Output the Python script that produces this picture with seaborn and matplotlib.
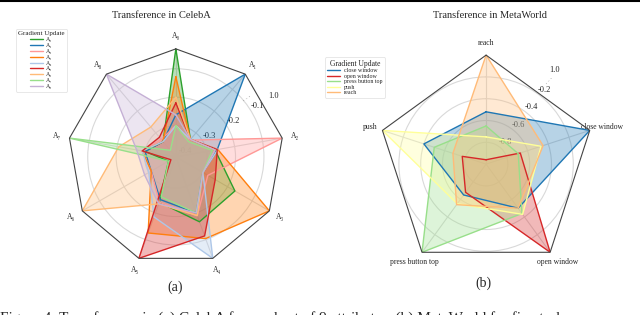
import numpy as np
import matplotlib
matplotlib.use("Agg")
import matplotlib.pyplot as plt
from matplotlib.lines import Line2D
import seaborn as sns

# CelebA: rows = gradient update of attribute, columns = attribute axis
celeba_axes = ['A₀', 'A₁', 'A₂', 'A₃', 'A₄', 'A₅', 'A₆', 'A₇', 'A₈']
celeba_series = ['A₀', 'A₁', 'A₂', 'A₃', 'A₄', 'A₅', 'A₆', 'A₇', 'A₈']
A0 = [1.0, -0.33, -0.27, -0.17, -0.167, -0.24, -0.38, -0.30, -0.34]
A1 = [-0.262, 1.0, -0.262, -0.30, -0.20, -0.25, -0.31, -0.30, -0.34]
A2 = [-0.30, -0.333, 1.0, -0.28, -0.19, -0.24, -0.31, -0.29, -0.33]
A3 = [-0.128, -0.33, -0.26, 1.0, -0.104, -0.125, -0.31, -0.29, -0.34]
A4 = [-0.30, -0.33, -0.26, -0.30, 1.0, -0.185, -0.30, -0.29, -0.34]
A5 = [-0.22, -0.33, -0.262, -0.25, -0.114, 1.0, -0.39, -0.29, -0.32]
A6 = [-0.20, -0.33, -0.27, -0.30, -0.19, -0.234, 1.0, -0.206, -0.273]
A7 = [-0.30, -0.34, -0.28, -0.30, -0.20, -0.26, -0.38, 1.0, -0.38]
A8 = [-0.262, -0.33, -0.27, -0.30, -0.20, -0.234, -0.283, -0.27, 1.0]
celeba_values = [A0, A1, A2, A3, A4, A5, A6, A7, A8]
celeba_ticks = [-0.4, -0.3, -0.2, -0.1]

# MetaWorld
mw_axes = ['reach', 'close window', 'open window', 'press button top', 'push']
mw_series = ['close window', 'open window', 'press button top', 'push', 'reach']
close_window = [-0.52, 1.0, -0.50, -0.65, -0.40]
open_window = [-0.96, -0.67, 1.0, -0.68, -0.77]
press_button_top = [-0.65, -0.69, -0.44, 1.0, -0.50]
push = [-0.75, -0.47, -0.43, -0.55, 1.0]
reach = [1.0, -0.45, -0.50, -0.54, -0.68]
mw_values = [close_window, open_window, press_button_top, push, reach]
mw_ticks = [-0.8, -0.6, -0.4, -0.2]

sns.set_theme(style='white')
plt.rcParams['font.family'] = ['Liberation Serif', 'DejaVu Serif']

tab = sns.color_palette('tab20')
celeba_colors = [tab[4], tab[0], tab[7], tab[2], tab[1], tab[6], tab[3], tab[5], tab[9]]
mw_colors = [tab[0], tab[6], tab[5], '#ffff99', tab[3]]


def radar(ax, axis_names, names, values, colors, ticks, rmin, rtop, label_pos, dots):
    n = len(axis_names)
    angles = np.arange(n) * 2 * np.pi / n
    ax.set_theta_zero_location('N')
    ax.set_theta_direction(-1)
    ax.set_ylim(rmin, rtop)
    for name, vals, col in zip(names, values, colors):
        # the self-transfer value 1.0 sits on the outer frame (broken axis)
        r = np.where(np.array(vals) >= 1.0, rtop, vals)
        t = np.append(angles, angles[0])
        r = np.append(r, r[0])
        ax.plot(t, r, color=col, lw=1.0, label=name)
        ax.fill(t, r, color=col, alpha=0.32, lw=0)
    # polygon frame
    ax.plot(np.append(angles, angles[0]), [rtop] * (n + 1), color='#444444', lw=0.8,
            clip_on=False)
    ax.spines['polar'].set_visible(False)
    ax.set_xticks(angles)
    ax.set_xticklabels(axis_names, fontsize=5.5)
    ax.tick_params(axis='x', pad=-4)
    ax.set_yticks(ticks)
    ax.set_yticklabels(['%.1f' % v for v in ticks], fontsize=6)
    ax.set_rlabel_position(label_pos)
    ax.grid(True, color='#d9d9d9', lw=0.8)
    span = rtop - rmin
    ax.text(np.deg2rad(label_pos), rtop + 0.07 * span, '1.0', fontsize=6,
            ha='center', va='center')
    d_ang, d_r, d_rot = dots
    ax.text(np.deg2rad(d_ang), d_r, '. . .', fontsize=4.5,
            ha='center', va='center', rotation=d_rot, color='#555555')


fig = plt.figure(figsize=(6.4, 3.15), dpi=100)
ax1 = fig.add_axes([0.106, 0.159, 0.3375, 0.686], projection='polar')
ax2 = fig.add_axes([0.589, 0.133, 0.341, 0.692], projection='polar')

radar(ax1, celeba_axes, celeba_series, celeba_values, celeba_colors, celeba_ticks,
      -0.41, -0.03, 58, (50, -0.085, 34))
radar(ax2, mw_axes, mw_series, mw_values, mw_colors, mw_ticks,
      -1.0, 0.0, 36, (36.5, -0.04, 47))

fig.text(161 / 640, 1 - 15 / 315, 'Transference in CelebA', fontsize=7.5,
         ha='center', va='center')
fig.text(490 / 640, 1 - 15 / 315, 'Transference in MetaWorld', fontsize=7.5,
         ha='center', va='center')

leg1 = ax1.legend(loc='upper left', bbox_to_anchor=(0.02, 0.918), bbox_transform=fig.transFigure,
                  title='Gradient Update', fontsize=4.2, title_fontsize=5, frameon=True,
                  handlelength=2.2, labelspacing=0.14, borderpad=0.4, handletextpad=0.6)
leg1.get_frame().set_edgecolor('#dddddd')
leg1.get_frame().set_linewidth(0.6)
leg2 = ax2.legend(loc='upper left', bbox_to_anchor=(0.503, 0.827), bbox_transform=fig.transFigure,
                  title='Gradient Update', fontsize=4.3, title_fontsize=5.5, frameon=True,
                  handlelength=2.2, labelspacing=0.05, borderpad=0.4, handletextpad=0.6)
leg2.get_frame().set_edgecolor('#dddddd')
leg2.get_frame().set_linewidth(0.6)

fig.text(0.274, 0.088, '(a)', fontsize=10, ha='center', va='center')
fig.text(0.755, 0.1, '(b)', fontsize=10, ha='center', va='center')
fig.text(0.0, 0.012, 'Figure 4: Transference in (a) CelebA for a subset of 9 attributes; '
         '(b) MetaWorld for five tasks.', fontsize=11, ha='left', va='top')
fig.add_artist(Line2D([0, 1], [0.998, 0.998], color='black', lw=1.5,
                      transform=fig.transFigure))

fig.savefig('out.png', dpi=100)
